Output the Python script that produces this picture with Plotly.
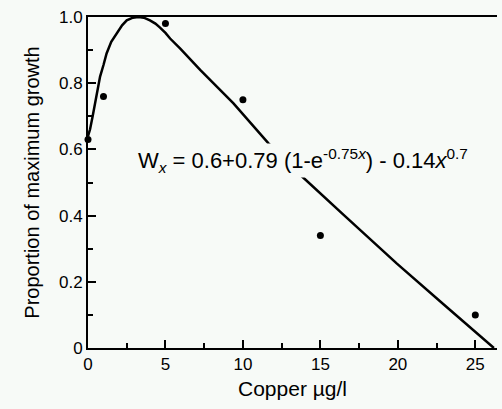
import plotly.graph_objects as go

# Observed data points
obs_x = [0, 1, 5, 10, 15, 25]
obs_y = [0.63, 0.76, 0.98, 0.75, 0.34, 0.10]

# Fitted curve
curve_x = [0.0, 0.13, 0.3, 0.45, 0.6, 0.78, 1.0, 1.2, 1.5, 1.85, 2.2, 2.5, 2.9, 3.25, 3.6, 4.0,
           4.35, 4.65, 5.0, 5.3, 5.94, 7.24, 9.39, 11.65, 13.59, 16.5, 19.94, 23.0, 26.2]
curve_y = [0.64, 0.66, 0.70, 0.74, 0.78, 0.82, 0.855, 0.89, 0.925, 0.95, 0.975, 0.99, 0.998, 1.0,
           0.998, 0.99, 0.98, 0.968, 0.952, 0.935, 0.905, 0.84, 0.739, 0.618, 0.528, 0.402, 0.255,
           0.13, 0.0]

x_ticks = [0, 5, 10, 15, 20, 25]
y_ticks = [0, 0.2, 0.4, 0.6, 0.8, 1.0]
y_ticktext = ["0", "0.2", "0.4", "0.6", "0.8", "1.0"]

equation = "W<sub><i>x</i></sub> = 0.6+0.79 (1-e<sup>-0.75<i>x</i></sup>) - 0.14<i>x</i><sup>0.7</sup>"

bg = "#f7faf7"
font = "Liberation Sans, Arial, Helvetica, sans-serif"

fig = go.Figure()
fig.add_trace(go.Scatter(x=curve_x, y=curve_y, mode="lines",
                         line=dict(color="black", width=2.5),
                         cliponaxis=False, showlegend=False, hoverinfo="skip"))
fig.add_trace(go.Scatter(x=obs_x, y=obs_y, mode="markers",
                         marker=dict(color="black", size=7),
                         cliponaxis=False, showlegend=False))

fig.add_annotation(x=3.1, y=0.565, xref="x", yref="y", xanchor="left", yanchor="middle",
                   text=equation, showarrow=False, bgcolor=bg,
                   font=dict(family=font, size=22, color="black"))

fig.update_layout(
    width=502, height=409,
    margin=dict(l=88, r=5, t=17, b=61),
    paper_bgcolor=bg, plot_bgcolor=bg,
    font=dict(family=font, size=17, color="black"),
    xaxis=dict(range=[0, 26.4], tickvals=x_ticks, ticks="inside", ticklen=8, tickwidth=1.5,
               tickcolor="black", showline=True, linecolor="black", linewidth=2, mirror=True,
               showgrid=False, zeroline=False,
               minor=dict(tickvals=[2.5, 7.5, 12.5, 17.5, 22.5], ticks="inside", ticklen=5,
                          tickcolor="black", tickwidth=1.5),
               title=dict(text="Copper µg/l", font=dict(size=21), standoff=8)),
    yaxis=dict(range=[0, 1.0], tickvals=y_ticks, ticktext=y_ticktext, ticks="inside", ticklen=8,
               tickwidth=1.5, tickcolor="black", showline=True, linecolor="black", linewidth=2,
               showgrid=False, zeroline=False,
               minor=dict(tickvals=[0.1, 0.3, 0.5, 0.7, 0.9], ticks="inside", ticklen=5,
                          tickcolor="black", tickwidth=1.5),
               title=dict(text="Proportion of maximum growth", font=dict(size=20), standoff=14)),
)

fig.write_html("out.html")
